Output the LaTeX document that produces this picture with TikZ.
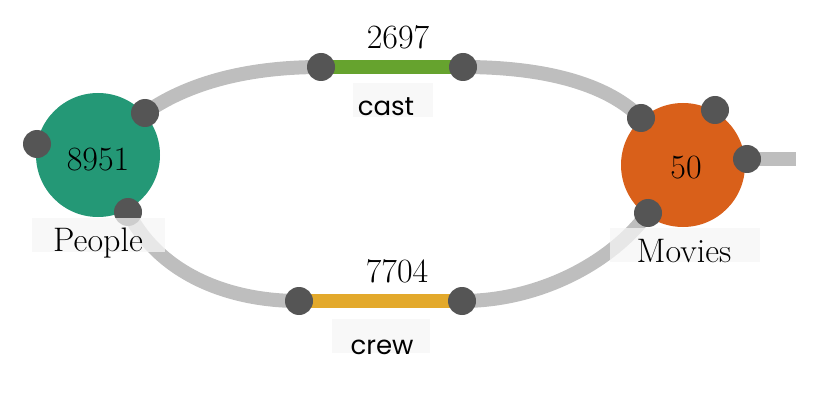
\documentclass[tikz,border=0pt]{standalone}
\usepackage{fontspec}
\newfontfamily\tagfont{Poppins}
\definecolor{hubgreen}{RGB}{36,152,118}
\definecolor{hubonge}{RGB}{217,96,26}
\definecolor{dotgray}{RGB}{85,85,85}
\definecolor{trackgray}{RGB}{190,190,190}
\definecolor{castgreen}{RGB}{102,163,46}
\definecolor{crewgold}{RGB}{227,169,43}
\definecolor{tagbg}{RGB}{246,246,246}
\begin{document}
\begin{tikzpicture}[x=1pt,y=-1pt,
  hub/.style={circle,minimum size=124pt,inner sep=0pt},
  port/.style={circle,fill=dotgray,minimum size=28pt,inner sep=0pt},
  track/.style={line width=14pt,draw=trackgray},
  bar/.style={line width=14pt},
  num/.style={font=\fontsize{34}{36}\selectfont,inner sep=0pt},
  tag/.style={fill=tagbg,fill opacity=0.75,inner sep=0pt,minimum height=34pt},
  tagtext/.style={font=\tagfont\fontsize{26}{30}\selectfont,inner sep=0pt}]
\useasboundingbox (0,0) rectangle (816,406);
% hubs
\node[hub,fill=hubgreen] (people) at (98,155) {};
\node[hub,fill=hubonge] (movies) at (683,165) {};
% ports
\coordinate (p1) at (37,144);
\coordinate (p2) at (145,113);
\coordinate (p3) at (128,212);
\coordinate (m1) at (641,118);
\coordinate (m2) at (715,110);
\coordinate (m3) at (747,159);
\coordinate (m4) at (648,213);
\coordinate (c1) at (321,67);
\coordinate (c2) at (463,67);
\coordinate (w1) at (299,301);
\coordinate (w2) at (462,301);
\coordinate (stub) at (796,159);
% tracks
\draw[track] (p2) .. controls (195,78) and (260,67) .. (c1);
\draw[track] (c2) .. controls (540,67) and (605,82) .. (m1);
\draw[track] (p3) .. controls (160,275) and (230,301) .. (w1);
\draw[track] (w2) .. controls (540,301) and (612,262) .. (m4);
\draw[track] (m3) -- (stub);
\draw[bar,draw=castgreen] (c1) -- (c2);
\draw[bar,draw=crewgold] (w1) -- (w2);
% port dots
\foreach \n in {p1,p2,p3,m1,m2,m3,m4,c1,c2,w1,w2}
  \node[port] (d\n) at (\n) {};
% labels
\node[tag,minimum width=133pt] (peopletag) at (98,235) {};
\node[tag,minimum width=150pt] (moviestag) at (685,245) {};
\node[tag,minimum width=80pt] (casttag) at (393,100) {};
\node[tag,minimum width=98pt] (crewtag) at (381,336) {};
\node[num] at (98,160) {8951};
\node[num] at (686,168) {50};
\node[num] at (98,243) {People};
\node[num] at (684,251) {Movies};
\node[num] (castnum) at (398,37) {2697};
\node[num] (crewnum) at (397,271) {7704};
\node[tagtext,anchor=base] at (386,116) {cast};
\node[tagtext,anchor=base] at (382,354) {crew};
\end{tikzpicture}
\end{document}
